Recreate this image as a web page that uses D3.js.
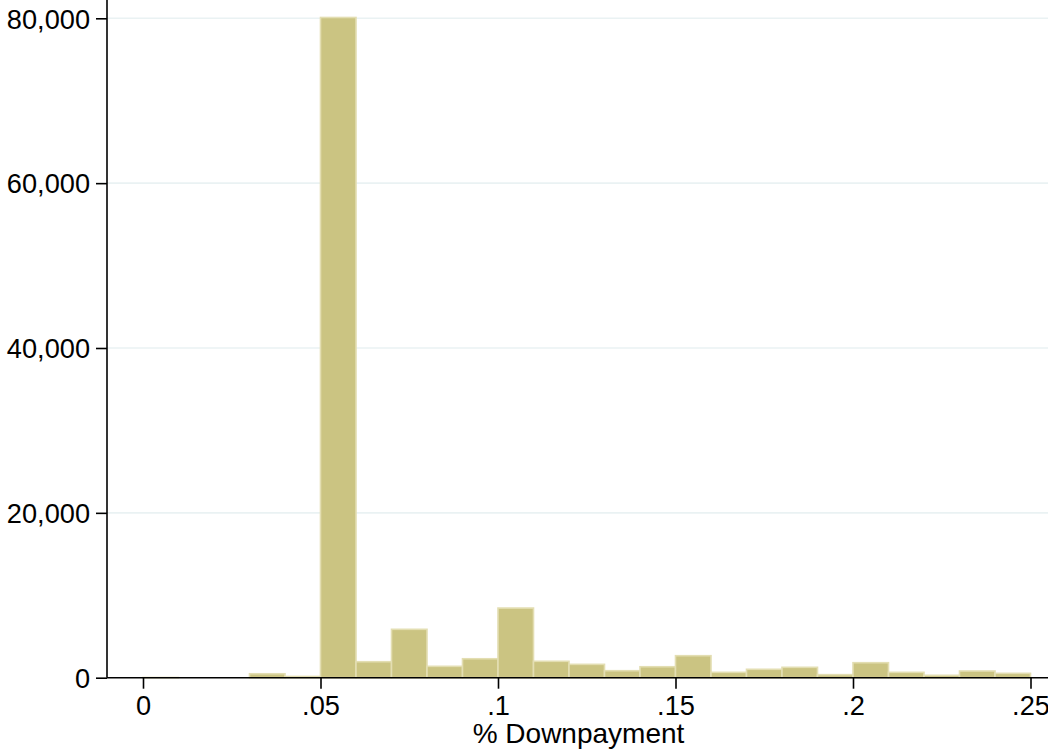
<!DOCTYPE html>
<html>
<head>
<meta charset="utf-8">
<script src="https://cdn.jsdelivr.net/npm/d3@7/dist/d3.min.js"></script>
<style>
  html, body { margin: 0; padding: 0; background: #fff; }
  svg { display: block; font-family: "Liberation Sans", Arial, sans-serif; }
</style>
</head>
<body>
<svg id="chart" width="1048" height="751"></svg>
<script>
// Histogram bins: lower edge of each 0.01-wide bin and its frequency
const binStarts = [0.00, 0.01, 0.02, 0.03, 0.04, 0.05, 0.06, 0.07, 0.08, 0.09,
                   0.10, 0.11, 0.12, 0.13, 0.14, 0.15, 0.16, 0.17, 0.18, 0.19,
                   0.20, 0.21, 0.22, 0.23, 0.24];
const frequencies = [20, 0, 0, 480, 150, 80100, 1940, 5870, 1380, 2300,
                     8450, 1990, 1620, 850, 1330, 2670, 650, 1020, 1260, 370,
                     1820, 650, 290, 810, 530];
const binWidth = 0.01;
const xTicks = [0, 0.05, 0.10, 0.15, 0.20, 0.25];
const xTickLabels = ["0", ".05", ".1", ".15", ".2", ".25"];
const yTicks = [0, 20000, 40000, 60000, 80000];
const xTitle = "% Downpayment";

const svg = d3.select("#chart");
const W = 1048, H = 751;
const axisX = 107, axisY = 677.7;
const tickFont = 27.2;

const x = d3.scaleLinear().domain([0, 0.25]).range([143, 1030.5]);
const y = d3.scaleLinear().domain([0, 80000]).range([677.7, 18.3]);

// horizontal grid lines
svg.append("g").selectAll("line")
  .data(yTicks.filter(d => d > 0))
  .join("line")
  .attr("x1", axisX).attr("x2", W)
  .attr("y1", d => y(d)).attr("y2", d => y(d))
  .attr("stroke", "#eaf2f3").attr("stroke-width", 1.6);

// bars
const bins = binStarts.map((s, i) => ({ x0: s, x1: s + binWidth, n: frequencies[i] }));
svg.append("g").selectAll("rect")
  .data(bins.filter(d => d.n > 0))
  .join("rect")
  .attr("x", d => x(d.x0))
  .attr("width", d => x(d.x1) - x(d.x0))
  .attr("y", d => y(d.n))
  .attr("height", d => y(0) - y(d.n))
  .attr("fill", "#cbc482")
  .attr("stroke", "#e3deb2")
  .attr("stroke-width", 1.6);

// y axis
const yAxis = d3.axisLeft(y)
  .tickValues(yTicks)
  .tickSize(11)
  .tickPadding(6)
  .tickFormat(d3.format(","));
const gy = svg.append("g").attr("transform", `translate(${axisX},0)`).call(yAxis);
gy.select(".domain").remove();
gy.append("line").attr("x1", 0).attr("x2", 0).attr("y1", 0).attr("y2", axisY)
  .attr("stroke", "#000").attr("stroke-width", 1.6);
gy.selectAll(".tick line").attr("stroke", "#000").attr("stroke-width", 1.6);
gy.selectAll(".tick text").attr("font-size", tickFont).attr("fill", "#000")
  .attr("font-family", "Liberation Sans, Arial, sans-serif").attr("dy", "0.36em");

// x axis
const xAxis = d3.axisBottom(x)
  .tickValues(xTicks)
  .tickSize(11)
  .tickPadding(7)
  .tickFormat((d, i) => xTickLabels[i]);
const gx = svg.append("g").attr("transform", `translate(0,${axisY})`).call(xAxis);
gx.select(".domain").remove();
gx.append("line").attr("x1", axisX).attr("x2", W).attr("y1", 0).attr("y2", 0)
  .attr("stroke", "#000").attr("stroke-width", 1.6);
gx.selectAll(".tick line").attr("stroke", "#000").attr("stroke-width", 1.6);
gx.selectAll(".tick text").attr("font-size", tickFont).attr("fill", "#000")
  .attr("font-family", "Liberation Sans, Arial, sans-serif");

// x axis title
svg.append("text")
  .attr("x", 578.5)
  .attr("y", 743)
  .attr("text-anchor", "middle")
  .attr("font-size", 28)
  .attr("fill", "#000")
  .text(xTitle);
</script>
</body>
</html>
